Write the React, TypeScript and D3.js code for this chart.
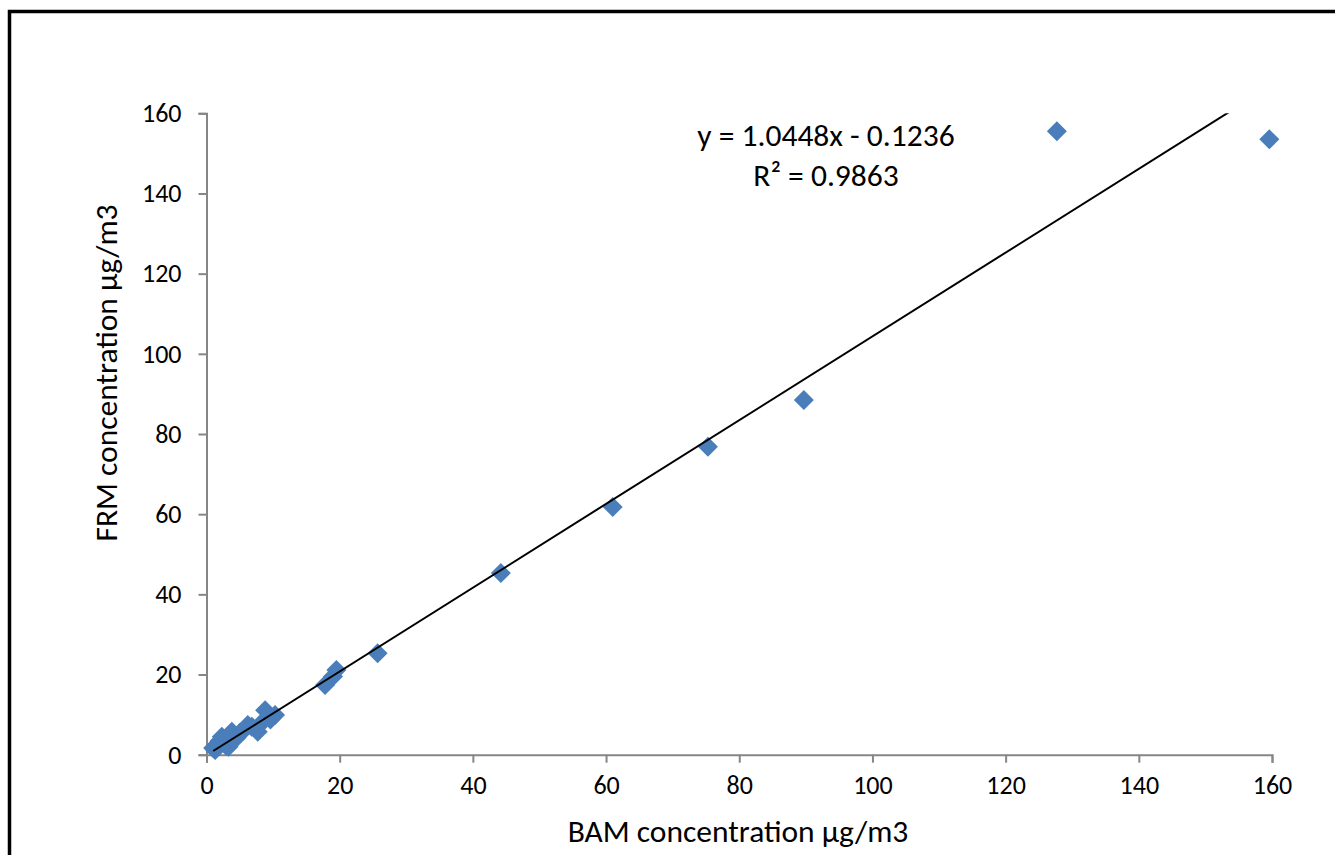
import React, { useEffect, useRef } from "react";
import * as d3 from "d3";

// BAM (x) vs FRM (y) concentrations, µg/m3
const bamValues = [1.0, 1.3, 1.6, 2.0, 2.3, 2.6, 3.0, 3.3, 3.6, 3.8, 4.1, 4.5, 5.0, 5.5, 6.2, 6.8, 7.7, 8.3, 8.8, 9.6, 10.3, 17.8, 19.0, 19.5, 25.7, 44.2, 61.0, 75.3, 89.7, 127.7, 159.6];
const frmValues = [1.7, 1.2, 2.5, 3.5, 4.5, 3.0, 2.2, 2.0, 4.0, 5.7, 5.0, 4.2, 5.5, 6.0, 7.4, 7.0, 5.7, 8.0, 11.1, 8.8, 9.9, 17.4, 19.5, 21.1, 25.3, 45.3, 61.8, 76.8, 88.5, 155.5, 153.5];
const xTicks = [0, 20, 40, 60, 80, 100, 120, 140, 160];
const yTicks = [0, 20, 40, 60, 80, 100, 120, 140, 160];
const slope = 1.0448;
const intercept = -0.1236;
const equationLines = ["y = 1.0448x - 0.1236", "R² = 0.9863"];

const W = 1335;
const H = 855;
const FONT = "Carlito, Calibri, Lato, sans-serif";

export default function App() {
    const svgRef = useRef<SVGSVGElement | null>(null);

    useEffect(() => {
        if (!svgRef.current) return;
        const svg = d3.select(svgRef.current);
        svg.selectAll("*").remove();

        const x = d3.scaleLinear().domain([0, 160]).range([206.5, 1272]);
        const y = d3.scaleLinear().domain([0, 160]).range([754.7, 113.3]);

        // outer chart frame (runs off right and bottom)
        svg.append("rect")
            .attr("x", 9.5).attr("y", 11.5)
            .attr("width", W + 20).attr("height", H + 20)
            .attr("fill", "white")
            .attr("stroke", "black")
            .attr("stroke-width", 3.5);

        const gx = svg.append("g").attr("transform", `translate(0,${y(0)})`)
            .call(d3.axisBottom(x).tickValues(xTicks).tickSize(8).tickPadding(13).tickFormat(d3.format("d")));
        const gy = svg.append("g").attr("transform", `translate(${x(0)},0)`)
            .call(d3.axisLeft(y).tickValues(yTicks).tickSize(8).tickPadding(17).tickFormat(d3.format("d")));
        [gx, gy].forEach((g) => {
            g.selectAll("path, line").attr("stroke", "#868686").attr("stroke-width", 2);
            g.selectAll("text").attr("font-family", FONT).attr("font-size", 26).attr("fill", "#000");
        });

        const data = bamValues.map((b, i) => ({ bam: b, frm: frmValues[i] }));

        svg.append("g").selectAll("path")
            .data(data)
            .enter()
            .append("path")
            .attr("d", d3.symbol(d3.symbolSquare, 200)())
            .attr("transform", (d) => `translate(${x(d.bam)},${y(d.frm)}) rotate(45)`)
            .attr("fill", "#4a7ebb");

        // linear trendline, clipped to the plot area
        svg.append("clipPath").attr("id", "plot-clip")
            .append("rect")
            .attr("x", x(0)).attr("y", y(160))
            .attr("width", x(160) - x(0)).attr("height", y(0) - y(160));
        const xMin = d3.min(bamValues) ?? 0;
        const xMax = d3.max(bamValues) ?? 160;
        svg.append("line")
            .attr("clip-path", "url(#plot-clip)")
            .attr("x1", x(xMin)).attr("y1", y(slope * xMin + intercept))
            .attr("x2", x(xMax)).attr("y2", y(slope * xMax + intercept))
            .attr("stroke", "black")
            .attr("stroke-width", 2);

        const eq = svg.append("text")
            .attr("font-family", FONT).attr("font-size", 31.5)
            .attr("text-anchor", "middle");
        eq.append("tspan").attr("x", 826).attr("y", 146).text(equationLines[0]);
        eq.append("tspan").attr("x", 826).attr("y", 186).text(equationLines[1]);

        svg.append("text")
            .attr("x", 738).attr("y", 842)
            .attr("text-anchor", "middle")
            .attr("font-family", FONT).attr("font-size", 31.5)
            .text("BAM concentration µg/m3");

        svg.append("text")
            .attr("transform", `translate(117,373) rotate(-90)`)
            .attr("text-anchor", "middle")
            .attr("font-family", FONT).attr("font-size", 31.5)
            .text("FRM concentration µg/m3");
    }, []);

    return (
        <div style={{ position: "absolute", left: 0, top: 0 }}>
            <svg ref={svgRef} width={W} height={H} style={{ display: "block" }} />
        </div>
    );
}
